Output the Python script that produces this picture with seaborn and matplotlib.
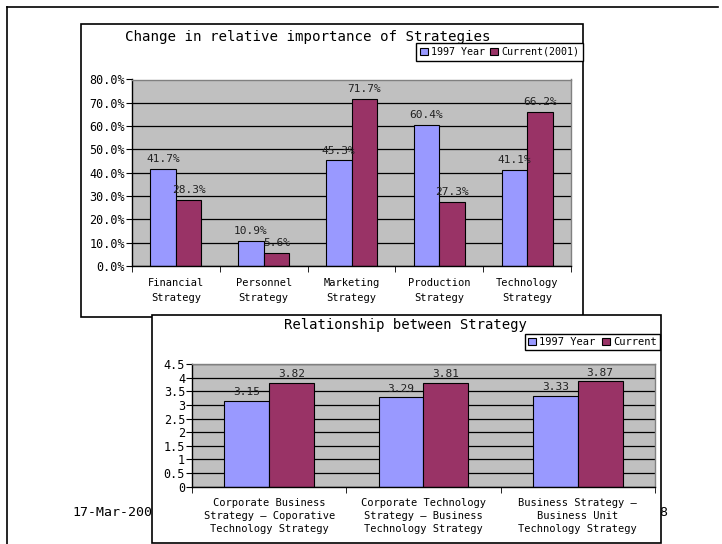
import matplotlib
matplotlib.use("Agg")
import matplotlib.pyplot as plt
import seaborn as sns
import pandas as pd
from matplotlib.patches import Rectangle, Patch
from matplotlib.lines import Line2D
from matplotlib.ticker import FuncFormatter

# ---------------- data ----------------
strategies = ["Financial\nStrategy", "Personnel\nStrategy", "Marketing\nStrategy",
              "Production\nStrategy", "Technology\nStrategy"]
year1997_pct = [41.7, 10.9, 45.3, 60.4, 41.1]
current2001_pct = [28.3, 5.6, 71.7, 27.3, 66.2]
series1 = ["1997 Year", "Current(2001)"]
pct_ticks = [0, 10, 20, 30, 40, 50, 60, 70, 80]

relations = ["Corporate Business\nStrategy \u2013 Coporative\nTechnology Strategy",
             "Corporate Technology\nStrategy \u2013 Business\nTechnology Strategy",
             "Business Strategy \u2013\nBusiness Unit\nTechnology Strategy"]
rel_1997 = [3.15, 3.29, 3.33]
rel_current = [3.82, 3.81, 3.87]
series2 = ["1997 Year", "Current"]
score_ticks = [0, 0.5, 1, 1.5, 2, 2.5, 3, 3.5, 4, 4.5]

title1 = "Change in relative importance of Strategies"
title2 = "Relationship between Strategy"
footer_date = "17-Mar-2003"
footer_page = "18"

BLUE = "#9999FF"
RED = "#993366"
FONT = ["DejaVu Sans Mono", "DejaVu Sans"]
plt.rcParams["font.family"] = FONT

W, H = 722, 544
fig = plt.figure(figsize=(W / 100, H / 100), dpi=100)


def fx(x):
    return x / W


def fy(y):
    return 1 - y / H


def add_box(x0, y0, x1, y1, z):
    r = Rectangle((fx(x0), fy(y1)), fx(x1) - fx(x0), fy(y0) - fy(y1),
                  transform=fig.transFigure, facecolor="white",
                  edgecolor="black", lw=1.2, zorder=z)
    fig.add_artist(r)


# slide border
fig.add_artist(Line2D([fx(7), fx(718)], [fy(7), fy(7)], transform=fig.transFigure,
                      color="black", lw=1.2, zorder=0.5))
fig.add_artist(Line2D([fx(7), fx(7)], [fy(7), fy(544)], transform=fig.transFigure,
                      color="black", lw=1.2, zorder=0.5))

# footer (partially hidden by second chart)
fig.text(fx(72), fy(512), footer_date, ha="left", va="center", fontsize=9.5, zorder=1)
fig.text(fx(668), fy(512), footer_page, ha="right", va="center", fontsize=9.5, zorder=1)


def draw_chart(ax, cats, v1, v2, names, ylim, yticks, yfmt, lblfmt, pad_lbl,
               xpad, linesp):
    df = pd.DataFrame({
        "category": list(cats) * 2,
        "series": [names[0]] * len(cats) + [names[1]] * len(cats),
        "value": list(v1) + list(v2),
    })
    sns.barplot(data=df, x="category", y="value", hue="series", order=cats,
                hue_order=names, palette=[BLUE, RED], width=0.58, gap=0,
                edgecolor="black", linewidth=0.8, saturation=1, errorbar=None,
                legend=False, ax=ax)
    for cont, vals in zip(ax.containers, [v1, v2]):
        ax.bar_label(cont, labels=[lblfmt(v) for v in vals], padding=pad_lbl,
                     fontsize=8, color="#222222")
    n = len(cats)
    ax.set_xlim(-0.5, n - 0.5)
    ax.set_ylim(*ylim)
    ax.set_yticks(yticks)
    ax.yaxis.set_major_formatter(FuncFormatter(lambda v, p: yfmt(v)))
    ax.set_xlabel("")
    ax.set_ylabel("")
    ax.set_facecolor("#C0C0C0")
    ax.set_axisbelow(True)
    ax.yaxis.grid(True, color="black", lw=0.9)
    ax.xaxis.grid(False)
    for s in ["left", "bottom"]:
        ax.spines[s].set_color("black")
        ax.spines[s].set_linewidth(1.0)
    for s in ["top", "right"]:
        ax.spines[s].set_color("#808080")
        ax.spines[s].set_linewidth(1.0)
    ax.set_xticks(range(n))
    ax.set_xticklabels(cats)
    ax.set_xticks([i - 0.5 for i in range(n + 1)], minor=True)
    ax.tick_params(axis="x", which="major", length=0, pad=xpad, labelsize=7.5)
    ax.tick_params(axis="x", which="minor", length=4, direction="out", color="black")
    ax.tick_params(axis="y", length=4, direction="out", labelsize=8.5, pad=1)
    for t in ax.get_xticklabels():
        t.set_linespacing(linesp)


# ---------------- chart 1 ----------------
add_box(81, 24, 583, 317, 1.5)
ax1 = fig.add_axes([fx(132), fy(266), fx(571) - fx(132), fy(79.5) - fy(266)])
ax1.set_zorder(2)
draw_chart(ax1, strategies, year1997_pct, current2001_pct, series1,
           (0, 80), pct_ticks, lambda v: f"{v:.1f}%", lambda v: f"{v:.1f}%",
           3.5, 8.5, 1.65)
fig.text(fx(308), fy(37), title1, ha="center", va="center", fontsize=10.2, zorder=3)
h1 = [Patch(facecolor=BLUE, edgecolor="black", lw=0.8),
      Patch(facecolor=RED, edgecolor="black", lw=0.8)]
leg1 = fig.legend(h1, series1, loc="upper right", bbox_to_anchor=(fx(583), fy(43)),
                  ncol=2, fontsize=7.2, frameon=True, fancybox=False,
                  edgecolor="black", framealpha=1, borderaxespad=0,
                  handlelength=0.8, handleheight=0.8, handletextpad=0.3,
                  columnspacing=0.5, borderpad=0.4)
leg1.get_frame().set_linewidth(1.0)
leg1.set_zorder(3)

# ---------------- chart 2 ----------------
add_box(152, 315, 661, 543, 5)
ax2 = fig.add_axes([fx(192), fy(486.7), fx(655) - fx(192), fy(364) - fy(486.7)])
ax2.set_zorder(6)
draw_chart(ax2, relations, rel_1997, rel_current, series2,
           (0, 4.5), score_ticks, lambda v: f"{v:g}", lambda v: f"{v:.2f}",
           2.5, 8, 1.4)
fig.text(fx(405), fy(325), title2, ha="center", va="center", fontsize=10, zorder=7)
leg2 = fig.legend(h1, series2, loc="upper right", bbox_to_anchor=(fx(660), fy(334)),
                  ncol=2, fontsize=7.5, frameon=True, fancybox=False,
                  edgecolor="black", framealpha=1, borderaxespad=0,
                  handlelength=0.8, handleheight=0.8, handletextpad=0.3,
                  columnspacing=0.6, borderpad=0.3)
leg2.get_frame().set_linewidth(1.0)
leg2.set_zorder(7)

fig.savefig("out.png", dpi=100)
